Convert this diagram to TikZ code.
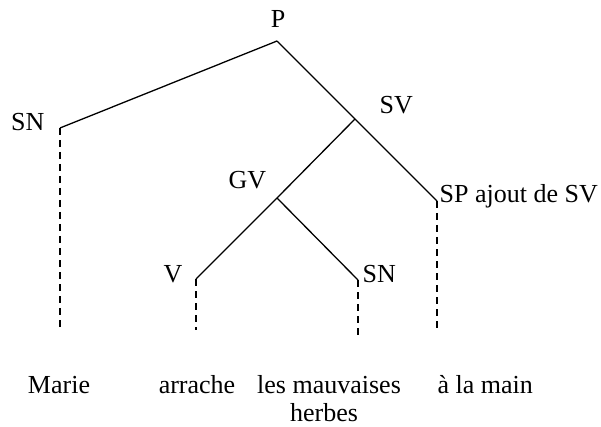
\documentclass[tikz,border=0pt]{standalone}
\usepackage{fontspec}
\setmainfont{Liberation Serif}
\begin{document}
\begin{tikzpicture}[x=1pt,y=-1pt,line width=1.3pt,
  lab/.style={inner sep=0pt,font=\fontsize{26}{30}\selectfont},
  trace/.style={dash pattern=on 7pt off 5pt}]
\useasboundingbox (0,0) rectangle (601,427);
% junction points
\coordinate (jP) at (277,41);
\coordinate (jSN) at (60,128);
\coordinate (jSV) at (355,119);
\coordinate (jGV) at (277,198);
\coordinate (jV) at (196,279);
\coordinate (jSN2) at (358,280);
\coordinate (jSP) at (437,201);
% ends of dashed traces
\coordinate (eSN) at (60,330);
\coordinate (eV) at (196,330);
\coordinate (eSN2) at (358,336);
\coordinate (eSP) at (437,330);
% labels
\node[lab,anchor=base] (lP) at (278,28) {P};
\node[lab,anchor=base east] (lSN) at (45,131) {SN};
\node[lab,anchor=base west] (lSV) at (379,114) {SV};
\node[lab,anchor=base west] (lGV) at (228,189) {GV};
\node[lab,anchor=base west] (lSP) at (439,203) {SP ajout de SV};
\node[lab,anchor=base west] (lV) at (163,282) {V};
\node[lab,anchor=base west] (lSN2) at (362,282) {SN};
% leaves
\node[lab,anchor=base] (wMarie) at (59,393) {Marie};
\node[lab,anchor=base] (wArr) at (197,393) {arrache};
\node[lab,anchor=base] (wHerb) at (329,393) {les mauvaises};
\node[lab,anchor=base] (wHerb2) at (324,421) {herbes};
\node[lab,anchor=base west] (wMain) at (437,393) {à la main};
% branches
\draw (jP) -- (jSN);
\draw (jP) -- (jSV) -- (jSP);
\draw (jSV) -- (jGV) -- (jV);
\draw (jGV) -- (jSN2);
% traces
\draw[trace] (jSN) -- (eSN);
\draw[trace] (jV) -- (eV);
\draw[trace] (jSN2) -- (eSN2);
\draw[trace] (jSP) -- (eSP);
\end{tikzpicture}
\end{document}
